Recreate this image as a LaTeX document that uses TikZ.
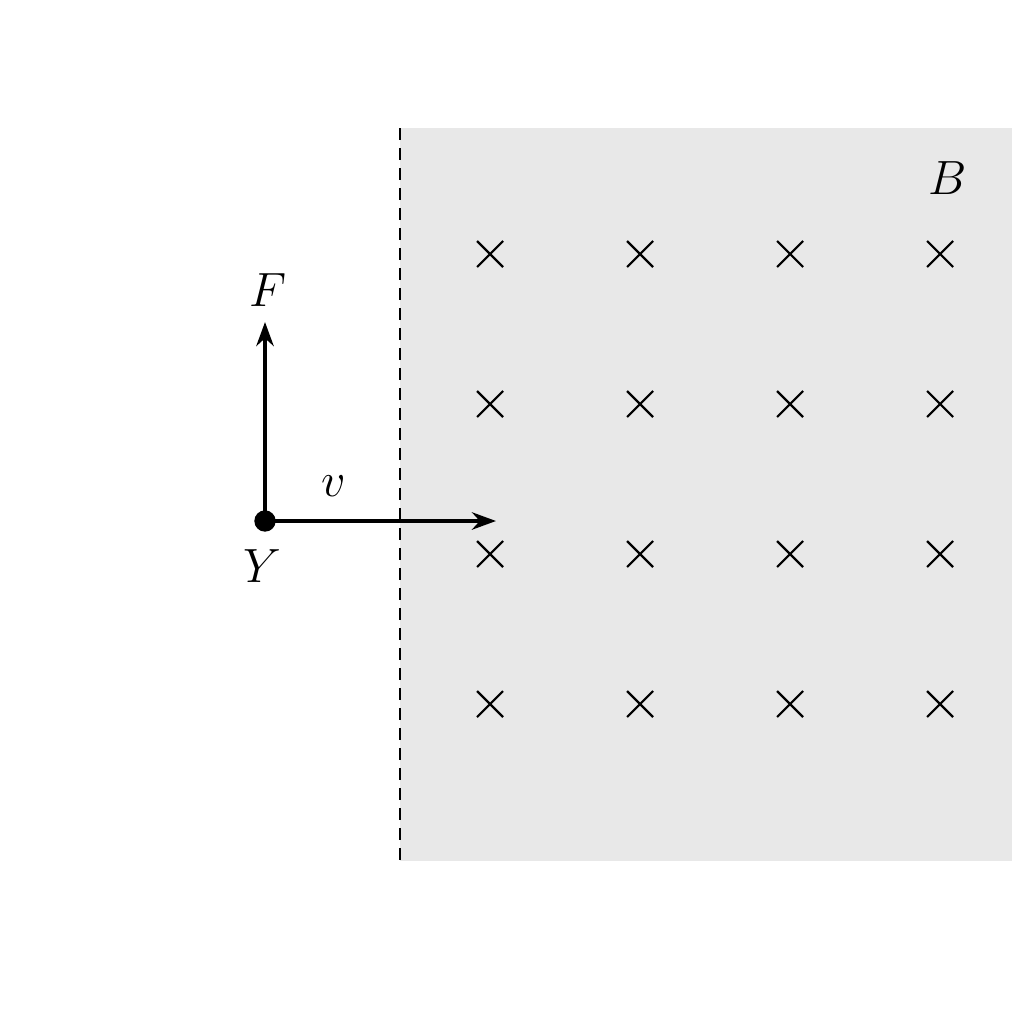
\documentclass[tikz,border=0pt]{standalone}
\usetikzlibrary{arrows.meta}
\definecolor{fieldgray}{RGB}{232,232,232}
\tikzset{
  vec/.style={line width=3.6pt,-{Stealth[length=18pt,width=13pt]}},
  crossmark/.style={line width=1.6pt},
  lbl/.style={inner sep=0.75pt,font=\Huge,scale=1.45}
}
\begin{document}
\begin{tikzpicture}[x=0.75pt,y=0.75pt,yscale=-1,xscale=1]
\useasboundingbox (0,0) rectangle (1024,1024);

%Shape: Rectangle (field region)
\fill [fieldgray] (400,128) rectangle (1012,861);
%Straight Lines (boundary)
\draw [line width=1.5pt,dash pattern=on 9pt off 6pt] (400,128) -- (400,861);

%Crosses
\foreach \cx in {490,640,790,940}{
  \foreach \cy in {254,404,554,704}{
    \draw [crossmark] (\cx-13,\cy-13) -- (\cx+13,\cy+13) (\cx-13,\cy+13) -- (\cx+13,\cy-13);
  }
}

%Point and vectors
\node [circle,fill=black,inner sep=0pt,minimum size=16pt] (y) at (265,521) {};
\coordinate (ftip) at (265,322);
\coordinate (vtip) at (496,521);
\draw [vec] (y.center) -- (ftip);
\draw [vec] (y.center) -- (vtip);

% Text Node
\node [lbl] (flbl) at (268,290) {$F$};
% Text Node
\node [lbl] (vlbl) at (334,486) {$v$};
% Text Node
\node [lbl] (ylbl) at (262,566) {$Y$};
% Text Node
\node [lbl] (blbl) at (948,178) {$B$};

\end{tikzpicture}
\end{document}
